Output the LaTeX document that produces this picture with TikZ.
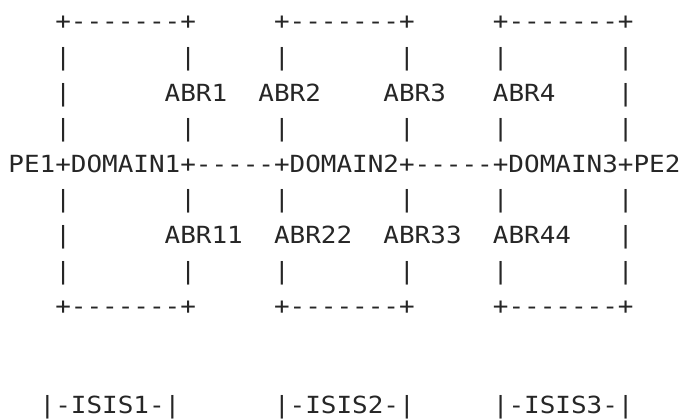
\documentclass[tikz,border=0pt]{standalone}
\usepackage{fontspec}
\newfontfamily\asciifont[FakeStretch=1.1,Ligatures=TeXOff]{DejaVu Sans Mono}
\newcommand\gaps[1]{\hspace*{#1\fontcharwd\font`\+}}

\begin{document}
\begin{tikzpicture}[
  x=1pt, y=-1pt,
  txtline/.style={anchor=base west, inner sep=0pt, outer sep=0pt, text=black!85,
    font=\asciifont\fontsize{23.6}{28}\selectfont},
]
\useasboundingbox (0,0) rectangle (682,419);

\node [txtline] (boxtop)   at (8.4,30.0)  {\gaps{3}+-------+\gaps{5}+-------+\gaps{5}+-------+};
\node [txtline] (sidea)    at (8.4,65.6)  {\gaps{3}|\gaps{7}|\gaps{5}|\gaps{7}|\gaps{5}|\gaps{7}|};
\node [txtline] (abrup)    at (8.4,101.2) {\gaps{3}|\gaps{6}ABR1\gaps{2}ABR2\gaps{4}ABR3\gaps{3}ABR4\gaps{4}|};
\node [txtline] (sideb)    at (8.4,136.8) {\gaps{3}|\gaps{7}|\gaps{5}|\gaps{7}|\gaps{5}|\gaps{7}|};
\node [txtline] (domains)  at (8.4,172.4) {PE1+DOMAIN1+-----+DOMAIN2+-----+DOMAIN3+PE2};
\node [txtline] (sidec)    at (8.4,208.0) {\gaps{3}|\gaps{7}|\gaps{5}|\gaps{7}|\gaps{5}|\gaps{7}|};
\node [txtline] (abrdown)  at (8.4,243.6) {\gaps{3}|\gaps{6}ABR11\gaps{2}ABR22\gaps{2}ABR33\gaps{2}ABR44\gaps{3}|};
\node [txtline] (sided)    at (8.4,279.2) {\gaps{3}|\gaps{7}|\gaps{5}|\gaps{7}|\gaps{5}|\gaps{7}|};
\node [txtline] (boxbot)   at (8.4,314.8) {\gaps{3}+-------+\gaps{5}+-------+\gaps{5}+-------+};

\node [txtline] (isis)     at (8.4,413.0) {\gaps{2}|-ISIS1-|\gaps{6}|-ISIS2-|\gaps{5}|-ISIS3-|};

\end{tikzpicture}
\end{document}
